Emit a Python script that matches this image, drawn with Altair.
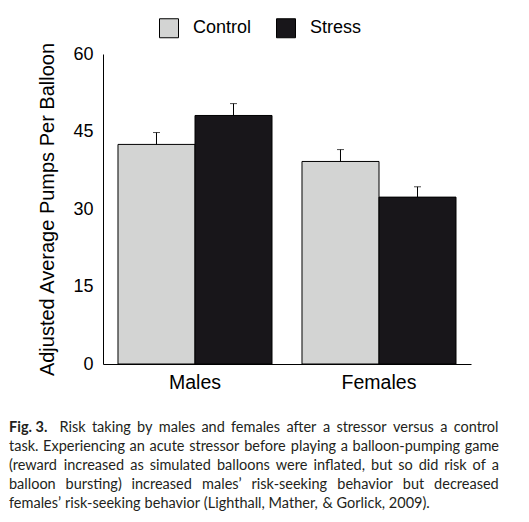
import glob
import os
import struct

import altair as alt
import pandas as pd

groups = ["Males", "Males", "Females", "Females"]
conditions = ["Control", "Stress", "Control", "Stress"]
means = [42.5, 48.1, 39.2, 32.3]
err_tops = [44.8, 50.4, 41.5, 34.3]

caption_bold = "Fig. 3."
caption_lines = [
    "Risk taking by males and females after a stressor versus a control",
    "task. Experiencing an acute stressor before playing a balloon-pumping game",
    "(reward increased as simulated balloons were inflated, but so did risk of a",
    "balloon bursting) increased males\u2019 risk-seeking behavior but decreased",
    "females\u2019 risk-seeking behavior (Lighthall, Mather, & Gorlick, 2009).",
]

df = pd.DataFrame({"group": groups, "cond": conditions, "mean": means, "top": err_tops})

FONT = "Liberation Sans"
CAP_FONT = "Lato"
CAP_SIZE = 14.5


# ---- font metrics (for justifying the caption text) ----
def load_advances(path):
    data = open(path, "rb").read()
    n = struct.unpack(">H", data[4:6])[0]
    tables = {}
    for i in range(n):
        tag, _, off, ln = struct.unpack(">4sIII", data[12 + 16 * i:28 + 16 * i])
        tables[tag.decode("latin1")] = off
    head = tables["head"]
    upem = struct.unpack(">H", data[head + 18:head + 20])[0]
    hhea = tables["hhea"]
    nhm = struct.unpack(">H", data[hhea + 34:hhea + 36])[0]
    hmtx = tables["hmtx"]
    adv = [struct.unpack(">H", data[hmtx + 4 * i:hmtx + 4 * i + 2])[0] for i in range(nhm)]
    cmap = tables["cmap"]
    nsub = struct.unpack(">H", data[cmap + 2:cmap + 4])[0]
    for i in range(nsub):
        pid, eid, off = struct.unpack(">HHI", data[cmap + 4 + 8 * i:cmap + 12 + 8 * i])
        sub = cmap + off
        fmt = struct.unpack(">H", data[sub:sub + 2])[0]
        if fmt != 4:
            continue
        segx2 = struct.unpack(">H", data[sub + 6:sub + 8])[0]
        seg = segx2 // 2
        ends = struct.unpack(">%dH" % seg, data[sub + 14:sub + 14 + segx2])
        so = sub + 16 + segx2
        starts = struct.unpack(">%dH" % seg, data[so:so + segx2])
        do = so + segx2
        deltas = struct.unpack(">%dh" % seg, data[do:do + segx2])
        ro = do + segx2
        ros = struct.unpack(">%dH" % seg, data[ro:ro + segx2])

        def width(ch):
            c = ord(ch)
            for k in range(seg):
                if ends[k] >= c:
                    if starts[k] > c:
                        return 0.5
                    if ros[k] == 0:
                        g = (c + deltas[k]) & 0xFFFF
                    else:
                        addr = ro + 2 * k + ros[k] + 2 * (c - starts[k])
                        g = struct.unpack(">H", data[addr:addr + 2])[0]
                        if g:
                            g = (g + deltas[k]) & 0xFFFF
                    return adv[min(g, len(adv) - 1)] / upem
            return 0.5
        return width
    raise ValueError("no cmap")


def find_font(name):
    for root in ["/usr/share/fonts", "/usr/local/share/fonts", os.path.expanduser("~/.fonts"),
                 os.path.expanduser("~/.local/share/fonts")]:
        hits = glob.glob(os.path.join(root, "**", name), recursive=True)
        if hits:
            return hits[0]
    return None


def make_measure(fname):
    try:
        p = find_font(fname)
        if p:
            w = load_advances(p)
            return lambda s, size: sum(w(ch) for ch in s) * size
    except Exception:
        pass
    return lambda s, size: len(s) * 0.47 * size


measure_reg = make_measure("Lato-Regular.ttf")
measure_bold = make_measure("Lato-Bold.ttf")

# caption layout in plot-area pixel coordinates
LEFT = -94
WIDTH = 490
TOP = 374
GAP = 19
BOLD_EXTRA = 6

rows = []
all_lines = [[(caption_bold, True)] + [(w, False) for w in caption_lines[0].split()]]
for line in caption_lines[1:]:
    all_lines.append([(w, False) for w in line.split()])
space = measure_reg(" ", CAP_SIZE)
for i, toks in enumerate(all_lines):
    widths = [(measure_bold if b else measure_reg)(t, CAP_SIZE) for t, b in toks]
    extra = [BOLD_EXTRA if b else 0 for t, b in toks]
    if i < len(all_lines) - 1 and len(toks) > 1:
        gap = (WIDTH - sum(widths) - sum(extra)) / (len(toks) - 1)
    else:
        gap = space
    xx = LEFT
    for (t, b), w, e in zip(toks, widths, extra):
        rows.append({"word": t, "bold": b, "px": xx, "py": TOP + i * GAP})
        xx += w + gap + e
cap_df = pd.DataFrame(rows)

x = alt.X("group:N", sort=["Males", "Females"],
          scale=alt.Scale(paddingInner=0.163, paddingOuter=0.0815),
          axis=alt.Axis(title=None, labelAngle=0, ticks=False, domainColor="black",
                        labelFontSize=19.5, labelFont=FONT, labelColor="black", labelPadding=9))
xo = alt.XOffset("cond:N", sort=["Control", "Stress"],
                 scale=alt.Scale(paddingInner=0, paddingOuter=0))

bars = alt.Chart(df).mark_bar(stroke="black", strokeWidth=1).encode(
    x=x, xOffset=xo,
    y=alt.Y("mean:Q", scale=alt.Scale(domain=[0, 60], nice=False),
            axis=alt.Axis(values=[0, 15, 30, 45, 60], ticks=False, grid=False,
                          domainColor="black", labelFontSize=18, labelFont=FONT,
                          labelColor="black", labelPadding=10,
                          title="Adjusted Average Pumps Per Balloon",
                          titleFont=FONT, titleFontSize=20, titleFontWeight="normal",
                          titleColor="black", titlePadding=15)),
    color=alt.Color("cond:N", sort=["Control", "Stress"],
                    scale=alt.Scale(domain=["Control", "Stress"], range=["#d3d4d3", "#18161a"]),
                    legend=alt.Legend(orient="none", legendX=56, legendY=-36,
                                      direction="horizontal", title=None,
                                      symbolType="square", symbolSize=361,
                                      symbolStrokeColor="black", symbolStrokeWidth=1,
                                      labelFontSize=18, labelFont=FONT, labelColor="black",
                                      labelOffset=14, columnPadding=22)),
)

rules = alt.Chart(df).mark_rule(color="black", strokeWidth=1).encode(
    x=alt.X("group:N", sort=["Males", "Females"]), xOffset=xo,
    y="mean:Q", y2="top:Q")

caps = alt.Chart(df).mark_tick(color="black", thickness=1, size=7).encode(
    x=alt.X("group:N", sort=["Males", "Females"]), xOffset=xo, y="top:Q")

plot = alt.layer(bars, rules, caps)


def caption_layer(bold):
    return alt.Chart(cap_df[cap_df["bold"] == bold]).mark_text(
        align="left", baseline="middle", font=CAP_FONT, fontSize=CAP_SIZE,
        fontWeight="bold" if bold else "normal", color="#231f20").encode(
        x=alt.X("px:Q", scale=None, axis=None),
        y=alt.Y("py:Q", scale=None, axis=None),
        text="word:N",
    )


caption = alt.layer(caption_layer(True), caption_layer(False))

chart = alt.layer(plot, caption).resolve_scale(x="independent", y="independent").properties(
    width=368, height=310,
    autosize=alt.AutoSizeParams(type="none"),
    padding={"left": 95, "top": 46, "right": 40, "bottom": 150},
).configure_view(stroke=None)

chart.save("out.html", embed_options={"renderer": "svg", "actions": False})
